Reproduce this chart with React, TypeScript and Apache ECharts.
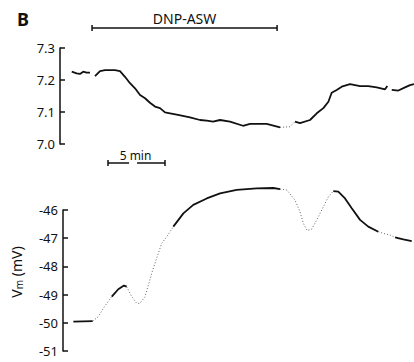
import React, { useEffect, useRef } from "react";
import * as echarts from "echarts";

// Time in minutes
const phA: number[][] = [[1.03, 7.226], [1.46, 7.221], [1.75, 7.219], [2.04, 7.226], [2.34, 7.223], [2.63, 7.223]];
const phB: number[][] = [
  [3.07, 7.212], [3.51, 7.228], [3.95, 7.231], [4.82, 7.231], [5.26, 7.228], [5.7, 7.21], [6.14, 7.19],
  [6.58, 7.174], [7.02, 7.153], [7.46, 7.143], [7.89, 7.129], [8.33, 7.117], [8.77, 7.112], [9.21, 7.099],
  [9.65, 7.096], [10.35, 7.091], [11.4, 7.083], [12.28, 7.075], [12.87, 7.073], [13.42, 7.07], [14.04, 7.075],
  [14.91, 7.07], [16.05, 7.057], [16.67, 7.063], [18.13, 7.063], [19.3, 7.052],
];
const phGap: number[][] = [[19.3, 7.052], [20.18, 7.054], [20.61, 7.07]];
const phC: number[][] = [
  [20.61, 7.07], [21.05, 7.065], [21.93, 7.075], [22.52, 7.096], [23.1, 7.112], [23.54, 7.132], [23.83, 7.16],
  [24.27, 7.169], [24.71, 7.179], [25.44, 7.187], [26.32, 7.181], [27.04, 7.181], [27.78, 7.177], [28.51, 7.171],
  [28.71, 7.181],
];
const phD: number[][] = [[29.1, 7.169], [29.68, 7.167], [30.26, 7.177], [30.7, 7.184], [31.05, 7.187]];

const vmA: number[][] = [[1.17, -49.96], [2.87, -49.94]];
const vmDot1: number[][] = [[2.87, -49.94], [3.36, -49.78], [3.8, -49.49], [4.32, -49.19], [4.54, -49.07]];
const vmB: number[][] = [[4.54, -49.07], [5.11, -48.81], [5.61, -48.68], [5.85, -48.72]];
const vmDot2: number[][] = [
  [5.85, -48.72], [6.29, -49.07], [6.73, -49.31], [7.02, -49.31], [7.46, -49.07], [7.75, -48.66],
  [8.13, -48.13], [8.92, -47.18], [9.36, -46.95], [9.94, -46.59],
];
const vmC: number[][] = [
  [9.94, -46.59], [10.82, -46.12], [11.69, -45.82], [12.87, -45.59], [14.04, -45.41], [15.5, -45.29],
  [17.25, -45.23], [18.71, -45.22], [19.3, -45.26],
];
const vmDot3: number[][] = [
  [19.3, -45.26], [19.89, -45.29], [20.61, -45.65], [21.05, -46.06], [21.34, -46.47], [21.69, -46.73],
  [22.08, -46.68], [22.52, -46.35], [22.96, -46.0], [23.54, -45.53], [23.97, -45.33],
];
const vmD: number[][] = [
  [23.97, -45.33], [24.41, -45.35], [25.0, -45.59], [25.59, -45.94], [26.32, -46.35], [27.04, -46.59], [27.92, -46.77],
];
const vmDot4: number[][] = [[27.92, -46.77], [28.36, -46.83], [28.95, -46.89], [29.39, -46.97]];
const vmE: number[][] = [[29.39, -46.97], [30.11, -47.04], [30.85, -47.1]];

const phTicks = [7.0, 7.1, 7.2, 7.3];
const vmTicks = [-51, -50, -49, -48, -47, -46];

// annotation times (minutes)
const dnpStart = 2.81;
const dnpEnd = 19.04;
const scaleStart = 4.21;
const scaleLen = 5;

const FONT = "'Noto Sans', 'DejaVu Sans', sans-serif";

export default function App() {
  const ref = useRef<HTMLDivElement>(null);
  useEffect(() => {
    if (!ref.current) return;
    const chart = echarts.init(ref.current, null, { renderer: "svg" });
    const solid = (data: number[][], i: number) => ({
      type: "line", xAxisIndex: i, yAxisIndex: i, data, showSymbol: false, symbol: "none", clip: false,
      lineStyle: { color: "#111", width: 1.8 }, smooth: false,
    });
    const dotted = (data: number[][], i: number) => ({
      type: "line", xAxisIndex: i, yAxisIndex: i, data, showSymbol: false, symbol: "none", clip: false,
      lineStyle: { color: "#666", width: 1, type: [1, 2] },
    });
    const yCommon = {
      type: "value",
      axisLine: { show: true, lineStyle: { color: "#111", width: 1.5 } },
      axisTick: { show: true, inside: true, length: 5, lineStyle: { color: "#111", width: 1.5 } },
      splitLine: { show: false },
      axisLabel: { color: "#111", fontFamily: FONT, fontSize: 13, margin: 5 },
    };
    chart.setOption({
      animation: false,
      grid: [
        { left: 60, top: 48, right: 0, height: 96 },
        { left: 63, top: 210, right: 0, height: 141 },
      ],
      xAxis: [
        { type: "value", gridIndex: 0, min: 0, max: 31.05, show: false },
        { type: "value", gridIndex: 1, min: 0.263, max: 31.05, show: false },
      ],
      yAxis: [
        {
          ...yCommon, gridIndex: 0, min: phTicks[0], max: phTicks[phTicks.length - 1], interval: 0.1,
          axisLabel: { ...yCommon.axisLabel, formatter: (v: number) => v.toFixed(1) },
        },
        {
          ...yCommon, gridIndex: 1, min: vmTicks[0], max: vmTicks[vmTicks.length - 1], interval: 1,
          axisLabel: { ...yCommon.axisLabel, formatter: (v: number) => String(v) },
        },
      ],
      series: [
        solid(phA, 0), solid(phB, 0), dotted(phGap, 0), solid(phC, 0), solid(phD, 0),
        solid(vmA, 1), dotted(vmDot1, 1), solid(vmB, 1), dotted(vmDot2, 1), solid(vmC, 1),
        dotted(vmDot3, 1), solid(vmD, 1), dotted(vmDot4, 1), solid(vmE, 1),
      ],
    });
    const px = (t: number, g: number) => chart.convertToPixel({ xAxisIndex: g }, t) as number;
    const x1 = px(dnpStart, 0), x2 = px(dnpEnd, 0);
    const s1 = px(scaleStart, 0), s2 = px(scaleStart + scaleLen, 0);
    const barY = 28, sy = 163;
    const ls = { stroke: "#111", lineWidth: 1.5 };
    chart.setOption({
      graphic: [
        { type: "text", left: 17, top: 10, style: { text: "B", font: `bold 18px ${FONT}`, fill: "#111" } },
        { type: "text", x: (x1 + x2) / 2, y: 18, style: { text: "DNP-ASW", font: `14px ${FONT}`, fill: "#111", align: "center", verticalAlign: "middle" } },
        { type: "line", shape: { x1, y1: barY, x2, y2: barY }, style: ls },
        { type: "line", shape: { x1, y1: barY - 3, x2: x1, y2: barY + 3 }, style: ls },
        { type: "line", shape: { x1: x2, y1: barY - 3, x2, y2: barY + 3 }, style: ls },
        { type: "text", x: (s1 + s2) / 2 - 1, y: 155, style: { text: "5 min", font: `12px ${FONT}`, fill: "#111", align: "center", verticalAlign: "middle" } },
        { type: "line", shape: { x1: s1, y1: sy, x2: s1 + (s2 - s1) * 0.37, y2: sy }, style: ls },
        { type: "line", shape: { x1: s1 + (s2 - s1) * 0.51, y1: sy, x2: s2, y2: sy }, style: ls },
        { type: "line", shape: { x1: s1, y1: sy - 3, x2: s1, y2: sy + 3 }, style: ls },
        { type: "line", shape: { x1: s2, y1: sy - 3, x2: s2, y2: sy + 3 }, style: ls },
        {
          type: "text", x: 16, y: 272, rotation: Math.PI / 2,
          style: {
            text: "{a|V}{b|m}{a| (mV)}", align: "center", verticalAlign: "middle",
            rich: {
              a: { fontFamily: FONT, fontSize: 14, fill: "#111", color: "#111" },
              b: { fontFamily: FONT, fontSize: 10, fill: "#111", color: "#111", padding: [6, 0, 0, 0] },
            },
          },
        },
      ],
    });
    return () => chart.dispose();
  }, []);
  return <div ref={ref} style={{ width: 414, height: 362, position: "absolute", left: 0, top: 0 }} />;
}
